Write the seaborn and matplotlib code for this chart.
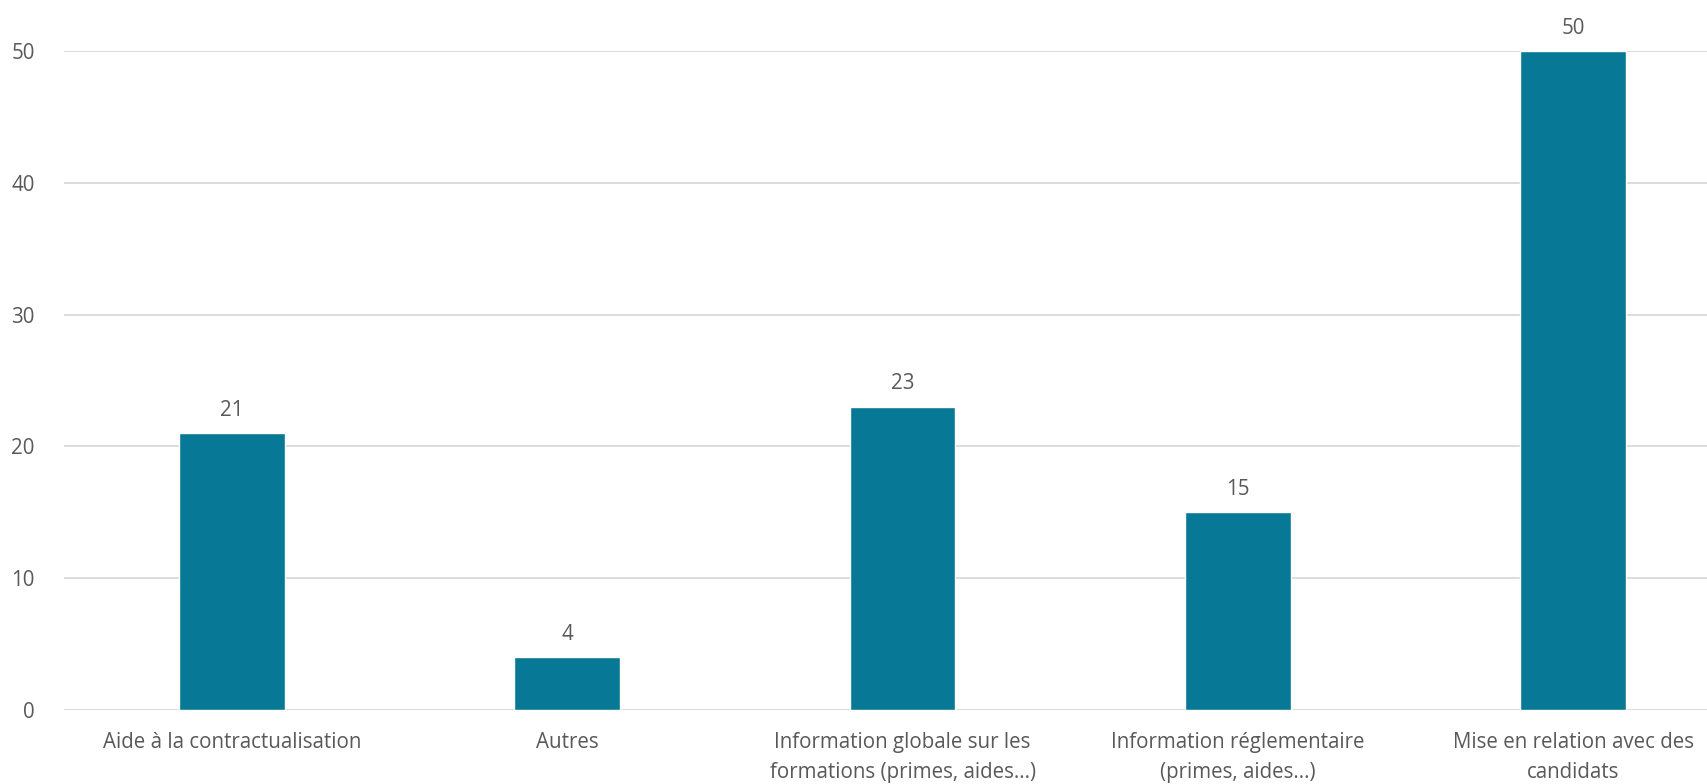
import matplotlib
matplotlib.use("Agg")
import matplotlib.pyplot as plt
import seaborn as sns
import pandas as pd

categories = [
    "Aide à la contractualisation",
    "Autres",
    "Information globale sur les\nformations (primes, aides...)",
    "Information réglementaire\n(primes, aides...)",
    "Mise en relation avec des\ncandidats",
]
values = [21, 4, 23, 15, 50]
y_ticks = [0, 10, 20, 30, 40, 50]

sns.set_theme(style="white")
plt.rcParams["font.family"] = ["Open Sans", "DejaVu Sans"]

W, H = 1708, 784
fig = plt.figure(figsize=(W / 100, H / 100), dpi=100)
left, right, top, bottom = 64, 1741, 51, 710
ax = fig.add_axes([left / W, 1 - bottom / H, (right - left) / W, (bottom - top) / H])

df = pd.DataFrame({"cat": categories, "val": values})
bar_color = "#077996"
sns.barplot(data=df, x="cat", y="val", color=bar_color, width=0.315,
            saturation=1, ax=ax, zorder=3)

text_color = "#595959"
fs = 14.8
ax.set_ylim(0, 50)
ax.set_xlim(-0.5, 4.5)
ax.set_yticks(y_ticks)
ax.set_yticklabels([str(t) for t in y_ticks])
ax.yaxis.grid(True, color="#d9d9d9", linewidth=1.3, zorder=0)
ax.set_axisbelow(True)
for s in ax.spines.values():
    s.set_visible(False)
ax.set_xlabel("")
ax.set_ylabel("")
ax.tick_params(axis="y", length=0, pad=21, labelsize=fs, labelcolor=text_color)
ax.tick_params(axis="x", length=0, pad=16, labelsize=fs, labelcolor=text_color)
for lbl in ax.get_xticklabels():
    lbl.set_linespacing(1.55)

ax.bar_label(ax.containers[0], labels=[str(v) for v in values], padding=9,
             fontsize=fs, color=text_color)

fig.savefig("out.png", dpi=100)
